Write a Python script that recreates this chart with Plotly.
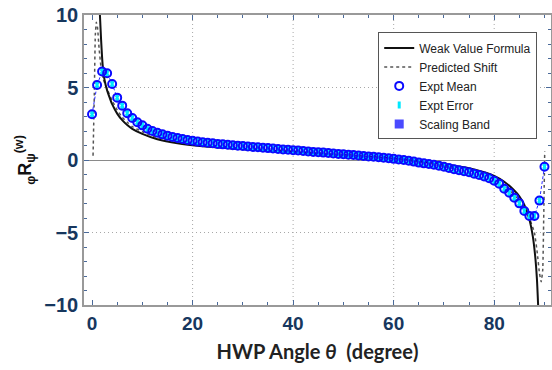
import plotly.graph_objects as go

# ---------------- data ----------------
expt_x = list(range(0, 91))
expt_y = [3.15, 5.17, 6.10, 5.98, 5.24, 4.30, 3.75, 3.22, 2.90, 2.60,
          2.39, 2.16, 2.00, 1.88, 1.77, 1.68, 1.59, 1.52, 1.45, 1.38,
          1.33, 1.27, 1.23, 1.19, 1.15, 1.11, 1.08, 1.05, 1.02, 0.99,
          0.96, 0.93, 0.90, 0.88, 0.85, 0.82, 0.79, 0.76, 0.73, 0.71,
          0.68, 0.65, 0.62, 0.59, 0.56, 0.53, 0.51, 0.48, 0.45, 0.42,
          0.40, 0.37, 0.34, 0.31, 0.28, 0.25, 0.22, 0.19, 0.15, 0.12,
          0.08, 0.04, 0.00, -0.05, -0.11, -0.18, -0.23, -0.28, -0.33, -0.39,
          -0.46, -0.55, -0.63, -0.71, -0.78, -0.85, -0.94, -1.03, -1.14, -1.26,
          -1.43, -1.63, -1.98, -2.25, -2.60, -2.99, -3.52, -3.86, -3.86, -2.80,
          -0.46]
expt_err = [0.1] * len(expt_x)

weak_x = [1.5, 1.8, 2.1, 2.5, 3.0, 3.5, 4.0, 5.0, 6.0, 7.0, 8.0, 10.0, 13.0,
          17.0, 22.0, 30.0, 40.0, 50.0, 60.0, 65.0, 70.0, 75.0, 78.0, 80.0,
          82.0, 84.0, 85.0, 86.0, 87.0, 87.7, 88.2, 88.5, 88.8]
weak_y = [10.5, 8.3, 6.6, 5.5, 4.8, 4.3, 3.85, 3.2, 2.75, 2.41, 2.15, 1.80, 1.43,
          1.15, 0.95, 0.75, 0.55, 0.35, 0.10, -0.08, -0.30, -0.57, -0.85, -1.10,
          -1.50, -2.10, -2.50, -3.10, -4.10, -5.30, -6.80, -8.20, -10.5]

pred_x = [0.2, 0.45, 0.65, 0.85, 1.1, 1.4, 1.75, 2.2, 3.0, 4.0, 5.0, 6.0, 7.0,
          8.0, 10.0, 13.0, 17.0, 22.0, 30.0, 40.0, 50.0, 60.0, 65.0, 70.0, 75.0,
          78.0, 80.0, 82.0, 84.0, 86.0, 87.0, 88.0, 88.6, 89.0, 89.35, 89.65,
          89.85, 90.05]
pred_y = [0.3, 4.5, 8.6, 9.5, 9.1, 7.7, 6.5, 5.6, 4.9, 4.1, 3.45, 2.95, 2.6,
          2.3, 1.95, 1.55, 1.27, 1.05, 0.83, 0.60, 0.38, 0.08, -0.13, -0.40, -0.72,
          -1.00, -1.30, -1.75, -2.40, -3.30, -4.00, -5.00, -6.50, -7.80, -8.40, -7.60,
          -4.00, 0.60]

x_ticks = [0, 20, 40, 60, 80]
y_ticks = [-10, -5, 0, 5, 10]
grid_x = [20, 40, 60, 80]
grid_y = [-5, 5]

# ---------------- figure ----------------
fig = go.Figure()

fig.add_trace(go.Scatter(x=pred_x, y=pred_y, mode="lines", name="Predicted Shift",
                         legendrank=2,
                         line=dict(color="#555555", width=1.5, dash="3px,3px",
                                   shape="spline", smoothing=0.4)))
fig.add_trace(go.Scatter(x=weak_x, y=weak_y, mode="lines", name="Weak Value Formula",
                         legendrank=1,
                         line=dict(color="#111111", width=2, shape="spline", smoothing=0.6)))
fig.add_trace(go.Scatter(x=expt_x, y=expt_y, mode="lines", showlegend=False,
                         line=dict(color="#2a2aff", width=1, dash="3px,2px")))
fig.add_trace(go.Scatter(x=expt_x, y=expt_y, mode="markers", name="Expt Error",
                         legendrank=4,
                         marker=dict(symbol="line-ns", size=5, color="#00e8ff",
                                     line=dict(width=3, color="#00e8ff")),
                         error_y=dict(type="data", array=expt_err, color="#00e8ff",
                                      thickness=1.5, width=2)))
fig.add_trace(go.Scatter(x=expt_x, y=expt_y, mode="markers", name="Expt Mean",
                         legendrank=3,
                         marker=dict(symbol="circle-open", size=8, color="#0a0aff",
                                     line=dict(width=2, color="#0a0aff"))))
fig.add_trace(go.Scatter(x=[None], y=[None], mode="markers", name="Scaling Band",
                         legendrank=5,
                         marker=dict(symbol="square", size=9, color="#4a4aff")))

for gv in grid_x:
    fig.add_shape(type="line", x0=gv, x1=gv, y0=0, y1=1, xref="x", yref="y domain",
                  line=dict(color="#a8a8a8", width=1, dash="1px,3px"), layer="below")
for gv in grid_y:
    fig.add_shape(type="line", x0=0, x1=1, y0=gv, y1=gv, xref="x domain", yref="y",
                  line=dict(color="#a8a8a8", width=1, dash="1px,3px"), layer="below")

fig.update_layout(
    width=552, height=370,
    margin=dict(l=84, r=1, t=15, b=65),
    paper_bgcolor="white", plot_bgcolor="white",
    showlegend=True,
    legend=dict(x=0.63, y=0.94, xanchor="left", yanchor="top",
                bgcolor="white", bordercolor="#555555", borderwidth=1,
                font=dict(family="Liberation Sans, Arial", size=12, color="#222222"),
                tracegroupgap=0),
    xaxis=dict(range=[-1.6, 91.3], tickvals=x_ticks, ticks="inside", ticklen=5,
               tickcolor="#4a6a9a", showgrid=False, zeroline=False, automargin=False,
               showline=True, linecolor="#999999", linewidth=1.5, mirror="allticks",
               tickfont=dict(family="Liberation Sans, Arial", size=19, color="#17375e",
                             weight="bold"),
               minor=dict(dtick=5, tick0=0, ticks="inside", ticklen=3, tickcolor="#4a6a9a"),
               title=dict(text="HWP Angle <i>θ</i>  (degree)", standoff=12,
                          font=dict(family="Lato, Liberation Sans", size=20,
                                    color="#222222", weight="bold"))),
    yaxis=dict(range=[-10, 10], tickvals=y_ticks, ticks="inside", ticklen=5,
               tickcolor="#4a6a9a", showgrid=False, automargin=False,
               zeroline=True, zerolinecolor="#8a8a8a", zerolinewidth=1.2,
               showline=True, linecolor="#999999", linewidth=1.5, mirror="allticks",
               tickfont=dict(family="Liberation Sans, Arial", size=20, color="#17375e",
                             weight="bold"),
               minor=dict(dtick=1, tick0=0, ticks="inside", ticklen=3, tickcolor="#4a6a9a"),
               title=dict(text="<b><sub>φ</sub>R<sub>ψ</sub><sup>(w)</sup></b>", standoff=8,
                          font=dict(family="Liberation Sans, Arial", size=18,
                                    color="#111111"))),
)

fig.write_html("out.html", config={"displayModeBar": False},
               post_script="document.body.style.margin='0';document.body.style.overflow='hidden';")
